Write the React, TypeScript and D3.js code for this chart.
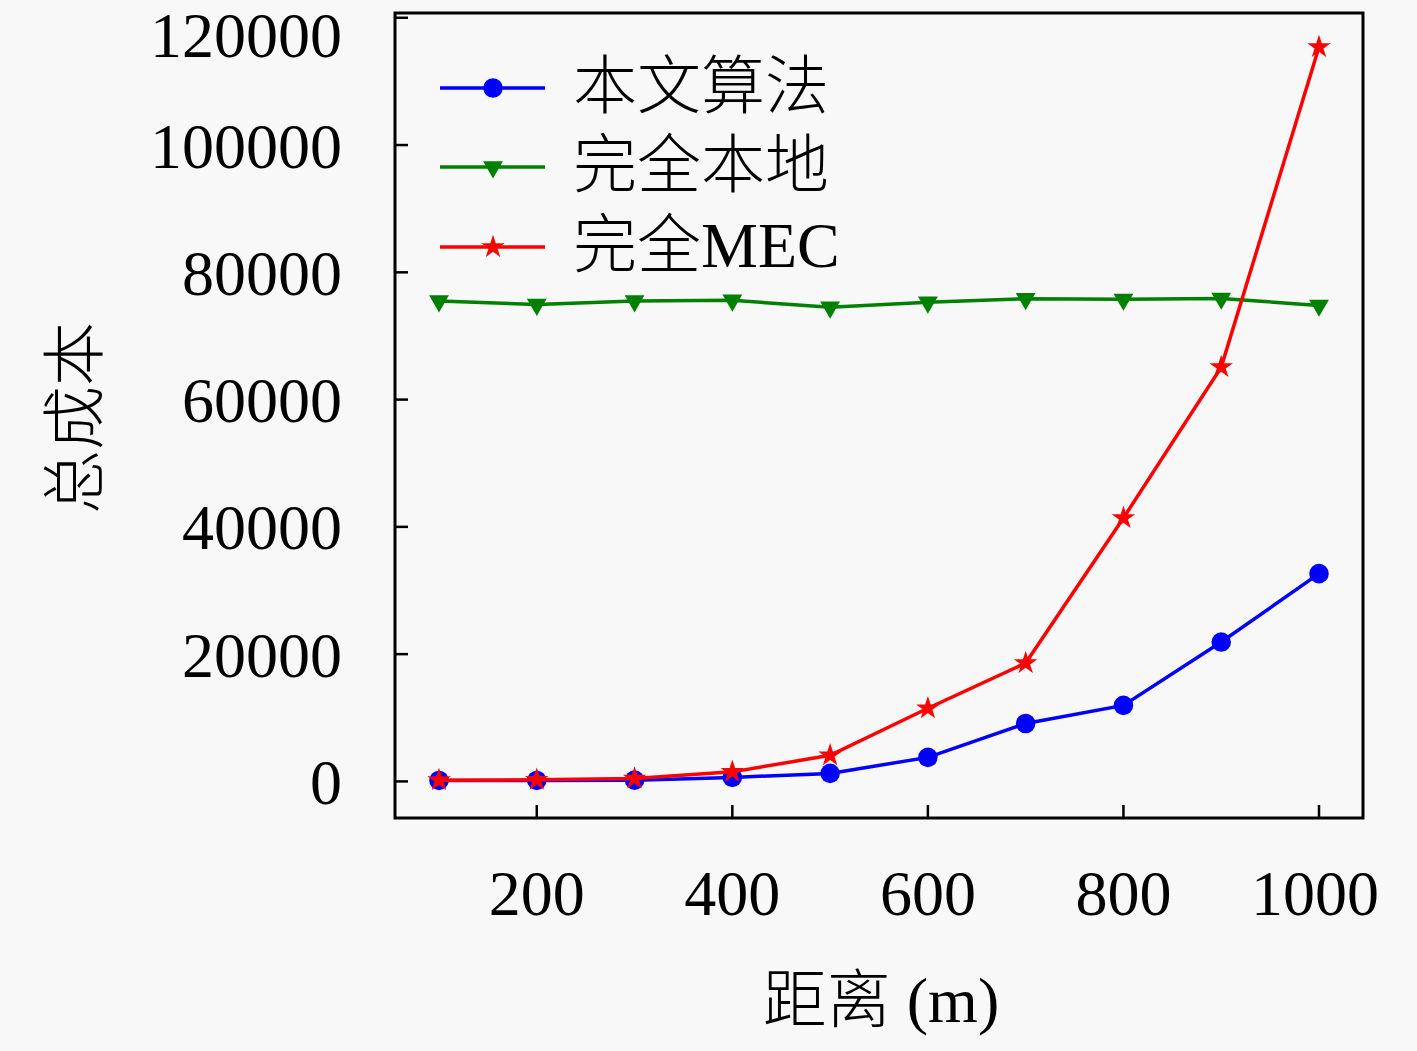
import * as d3 from "d3";
import React from "react";

// 距离 (m)
const distances = [100, 200, 300, 400, 500, 600, 700, 800, 900, 1000];
// 本文算法
const proposed = [150, 150, 200, 630, 1260, 3780, 9100, 11950, 21900, 32650];
// 完全本地
const allLocal = [75500, 74950, 75500, 75600, 74500, 75300, 75850, 75750, 75900, 74800];
// 完全MEC
const allMec = [200, 250, 450, 1500, 4100, 11500, 18600, 41400, 65100, 115400];

const xTicks = [200, 400, 600, 800, 1000];
const yTicks = [0, 20000, 40000, 60000, 80000, 100000, 120000];

const seriesNames = ["本文算法", "完全本地", "完全MEC"];
const seriesColors = ["#0000ff", "#008000", "#ff0000"];

const W = 1417;
const H = 1051;
const box = { left: 395, top: 13, right: 1363, bottom: 818 };
const latin = "'Liberation Serif', 'Noto Sans CJK SC', serif";

const App: React.FC = () => {
  const x = d3.scaleLinear().domain([55, 1045]).range([box.left, box.right]);
  const y = d3.scaleLinear().domain([-5750, 120750]).range([box.bottom, box.top]);

  const series = [proposed, allLocal, allMec];
  const line = d3
    .line<number>()
    .x((_, i) => x(distances[i]))
    .y((d) => y(d));

  const circle = d3.symbol(d3.symbolCircle, 300)();
  const triangle = d3.symbol(d3.symbolTriangle, 170)();
  const star = d3.symbol(d3.symbolStar, 170)();
  const markerPath = [circle, triangle, star];
  const markerRot = [0, 180, 0];

  const legendRows = [88, 167, 247];

  return (
    <svg
      width={W}
      height={H}
      style={{ position: "absolute", left: 0, top: 0, background: "#f8f8f8" }}
    >
      <rect width={W} height={H} fill="#f8f8f8" />

      {/* series */}
      {series.map((s, k) => (
        <g key={k}>
          <path d={line(s) || ""} fill="none" stroke={seriesColors[k]} strokeWidth={3.5} />
          {s.map((v, i) => (
            <path
              key={i}
              d={markerPath[k] || ""}
              transform={`translate(${x(distances[i])},${y(v)}) rotate(${markerRot[k]})`}
              fill={seriesColors[k]}
            />
          ))}
        </g>
      ))}

      {/* axes box */}
      <rect
        x={box.left}
        y={box.top}
        width={box.right - box.left}
        height={box.bottom - box.top}
        fill="none"
        stroke="#000"
        strokeWidth={3}
      />

      {yTicks.map((t) => (
        <g key={t}>
          <line x1={box.left} x2={box.left + 13} y1={y(t)} y2={y(t)} stroke="#000" strokeWidth={2.5} />
          <text
            x={342}
            y={Math.max(y(t) + 1, 35)}
            textAnchor="end"
            dominantBaseline="central"
            fontFamily={latin}
            fontSize={64}
            fill="#000"
          >
            {t}
          </text>
        </g>
      ))}

      {xTicks.map((t) => (
        <g key={t}>
          <line x1={x(t)} x2={x(t)} y1={box.bottom} y2={box.bottom - 13} stroke="#000" strokeWidth={2.5} />
          <text
            x={x(t) - (t >= 1000 ? 4 : 0)}
            y={915}
            textAnchor="middle"
            fontFamily={latin}
            fontSize={64}
            fill="#000"
          >
            {t}
          </text>
        </g>
      ))}

      {/* axis titles */}
      <text
        x={881}
        y={1022}
        textAnchor="middle"
        fontFamily={latin}
        fontSize={64}
        fontWeight={300}
        fill="#000"
      >
        距离 (m)
      </text>
      <text
        transform={`translate(75,418) rotate(-90)`}
        textAnchor="middle"
        dominantBaseline="central"
        fontFamily={latin}
        fontSize={64}
        fontWeight={300}
        fill="#000"
      >
        总成本
      </text>

      {/* legend */}
      {seriesNames.map((name, k) => (
        <g key={name}>
          <line x1={440} x2={545} y1={legendRows[k]} y2={legendRows[k]} stroke={seriesColors[k]} strokeWidth={3.5} />
          <path
            d={markerPath[k] || ""}
            transform={`translate(493,${legendRows[k]}) rotate(${markerRot[k]})`}
            fill={seriesColors[k]}
          />
          <text
            x={573}
            y={legendRows[k] - 2}
            dominantBaseline="central"
            fontFamily={latin}
            fontSize={64}
            fontWeight={300}
            fill="#000"
          >
            {name}
          </text>
        </g>
      ))}
    </svg>
  );
};

export default App;
